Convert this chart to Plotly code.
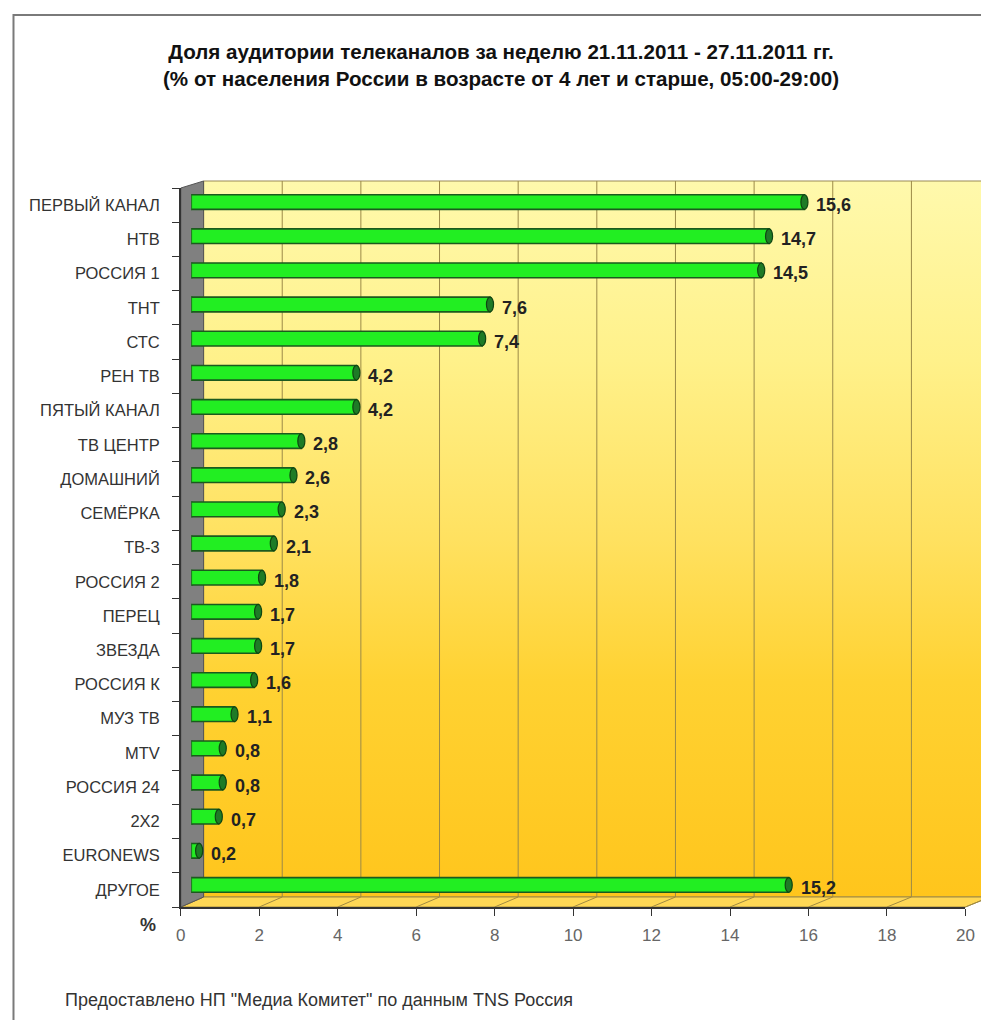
import plotly.graph_objects as go

# ---------------- data ----------------
categories = ["ПЕРВЫЙ КАНАЛ", "НТВ", "РОССИЯ 1", "ТНТ", "СТС", "РЕН ТВ", "ПЯТЫЙ КАНАЛ",
              "ТВ ЦЕНТР", "ДОМАШНИЙ", "СЕМЁРКА", "ТВ-3", "РОССИЯ 2", "ПЕРЕЦ", "ЗВЕЗДА",
              "РОССИЯ К", "МУЗ ТВ", "MTV", "РОССИЯ 24", "2X2", "EURONEWS", "ДРУГОЕ"]
values = [15.6, 14.7, 14.5, 7.6, 7.4, 4.2, 4.2, 2.8, 2.6, 2.3, 2.1, 1.8, 1.7, 1.7,
          1.6, 1.1, 0.8, 0.8, 0.7, 0.2, 15.2]
x_ticks = [0, 2, 4, 6, 8, 10, 12, 14, 16, 18, 20]
title_lines = ["Доля аудитории телеканалов за неделю 21.11.2011 - 27.11.2011 гг.",
               "(% от населения России в возрасте от 4 лет и старше, 05:00-29:00)"]
source_text = 'Предоставлено НП "Медиа Комитет" по данным TNS Россия'

# ---------------- geometry ----------------
W, H = 989, 1012


def rx(p):
    # target screen x -> figure x (page margin / capture correction)
    return (p - 12.5) / 0.987


def ry(p):
    return p - 8


FX0, FX1 = rx(180.5), rx(966)        # front x-axis 0..20
FY0, FY1 = ry(188), ry(907)          # front category band
BX0, BX1 = rx(203.3), rx(990.7)      # back wall 0..20
BY0, BY1 = ry(181), ry(897)
MX0, MX1 = rx(191), rx(978)          # bar (mid-depth) axis 0..20
MY0, MY1 = ry(185), ry(902)

FONT = "Liberation Sans, Arial, sans-serif"


def fx(k):
    return FX0 + (FX1 - FX0) * k / 20.0


def bx(k):
    return BX0 + (BX1 - BX0) * k / 20.0


fig = go.Figure()

# back wall with gradient
fig.add_trace(go.Scatter(
    x=[BX0, BX1, BX1, BX0, BX0], y=[BY0, BY0, BY1, BY1, BY0],
    xaxis="x", yaxis="y", mode="lines", fill="toself",
    line=dict(color="#9a8a55", width=1),
    fillgradient=dict(type="vertical", start=BY0, stop=BY1,
                      colorscale=[[0, "#FFF9AC"], [0.25, "#FFF18A"], [0.5, "#FFE160"],
                                  [0.7, "#FFD232"], [1, "#FFC51C"]]),
    hoverinfo="skip", showlegend=False))

# back grid lines
gx, gy = [], []
for k in x_ticks[1:]:
    gx += [bx(k), bx(k), None]
    gy += [BY0, BY1, None]
fig.add_trace(go.Scatter(x=gx, y=gy, xaxis="x", yaxis="y", mode="lines",
                         line=dict(color="#9c8a48", width=1),
                         hoverinfo="skip", showlegend=False))

# floor
fig.add_trace(go.Scatter(
    x=[FX0, FX1, BX1, BX0, FX0], y=[FY1, FY1, BY1, BY1, FY1],
    xaxis="x", yaxis="y", mode="lines", fill="toself", fillcolor="#FFD855",
    line=dict(color="#a08a40", width=1), hoverinfo="skip", showlegend=False))
fx_l, fy_l = [], []
for k in x_ticks:
    fx_l += [fx(k), bx(k), None]
    fy_l += [FY1, BY1, None]
fig.add_trace(go.Scatter(x=fx_l, y=fy_l, xaxis="x", yaxis="y", mode="lines",
                         line=dict(color="#a08a40", width=1),
                         hoverinfo="skip", showlegend=False))

# left wall
fig.add_trace(go.Scatter(
    x=[FX0, BX0, BX0, FX0, FX0], y=[FY0, BY0, BY1, FY1, FY0],
    xaxis="x", yaxis="y", mode="lines", fill="toself", fillcolor="#808080",
    line=dict(color="#555555", width=1), hoverinfo="skip", showlegend=False))

# bars
fig.add_trace(go.Bar(
    x=values, y=categories, orientation="h", xaxis="x2", yaxis="y2",
    width=0.43, marker=dict(color="#22EE22", line=dict(color="#1B5A1E", width=1.6)),
    hoverinfo="x+y", showlegend=False))

# invisible trace so that the front axes (x3/y3) are drawn
fig.add_trace(go.Scatter(
    x=values, y=list(range(len(categories))), xaxis="x3", yaxis="y3",
    mode="markers", marker=dict(size=1, opacity=0), hoverinfo="skip",
    showlegend=False))

shapes = []
annotations = []
for i, (c, v) in enumerate(zip(categories, values)):
    # left rounded end
    shapes.append(dict(type="circle", xref="x2", yref="y2", layer="below",
                       x0=-0.1, x1=0.1, y0=i - 0.215, y1=i + 0.215,
                       fillcolor="#22EE22", line=dict(color="#1B5A1E", width=1.6)))
    # right end cap
    shapes.append(dict(type="circle", xref="x2", yref="y2", layer="above",
                       x0=v - 0.09, x1=v + 0.09, y0=i - 0.215, y1=i + 0.215,
                       fillcolor="#1E7B26", line=dict(color="#0F4512", width=1.2)))
    annotations.append(dict(x=v, y=c, xref="x2", yref="y2", xanchor="left",
                            yanchor="middle", xshift=10, yshift=-3, showarrow=False,
                            text=f"{v:.1f}".replace(".", ","),
                            font=dict(family=FONT, size=18, color="#222222",
                                      weight="bold")))

# frame
shapes.append(dict(type="rect", xref="paper", yref="paper", layer="above",
                   x0=0.5 / W, x1=1.05, y0=-0.02, y1=1 - ry(15) / H,
                   line=dict(color="#7a7a7a", width=2)))

# title
annotations.append(dict(x=rx(501.5) / W, y=1 - ry(65) / H, xref="paper", yref="paper",
                        xanchor="center", yanchor="middle", showarrow=False,
                        text="<br>".join(title_lines),
                        font=dict(family=FONT, size=20.6, color="#111111",
                                  weight="bold")))
# % label
annotations.append(dict(x=rx(148) / W, y=1 - ry(925) / H, xref="paper", yref="paper",
                        xanchor="center", yanchor="middle", showarrow=False,
                        text="%", font=dict(family=FONT, size=18, color="#333333",
                                            weight="bold")))
# source
annotations.append(dict(x=rx(63) / W, y=1 - ry(1000) / H, xref="paper", yref="paper",
                        xanchor="left", yanchor="middle", showarrow=False,
                        text=source_text,
                        font=dict(family=FONT, size=18, color="#333333")))

fig.update_layout(
    width=W, height=H, margin=dict(l=0, r=0, t=0, b=0),
    paper_bgcolor="white", plot_bgcolor="rgba(0,0,0,0)",
    showlegend=False, shapes=shapes, annotations=annotations,
    xaxis=dict(domain=[0, 1], range=[0, W], visible=False, fixedrange=True),
    yaxis=dict(domain=[0, 1], range=[H, 0], visible=False, fixedrange=True),
    xaxis2=dict(domain=[MX0 / W, MX1 / W], range=[0, 20], visible=False,
                anchor="y2", fixedrange=True),
    yaxis2=dict(domain=[1 - MY1 / H, 1 - MY0 / H], type="category",
                categoryorder="array", categoryarray=categories,
                range=[len(categories) - 0.5, -0.5], visible=False,
                anchor="x2", fixedrange=True),
    xaxis3=dict(domain=[FX0 / W, FX1 / W], range=[0, 20], anchor="y3",
                tickvals=x_ticks, ticks="outside", ticklen=7, tickcolor="#333333",
                showline=True, linecolor="#333333", linewidth=1.5, showgrid=False,
                zeroline=False, ticklabelstandoff=5,
                tickfont=dict(family=FONT, size=17, color="#666666"),
                fixedrange=True),
    yaxis3=dict(domain=[1 - FY1 / H, 1 - FY0 / H], range=[len(categories) - 0.5, -0.5],
                anchor="x3", tickvals=list(range(len(categories))), ticktext=categories,
                ticks="", showline=True, linecolor="#333333", linewidth=1.5,
                showgrid=False, zeroline=False, ticklabelstandoff=16,
                minor=dict(ticks="outside", ticklen=7, tick0=0.5, dtick=1,
                           tickcolor="#333333", showgrid=False),
                tickfont=dict(family=FONT, size=16.5, color="#333333"),
                fixedrange=True),
)

fig.write_html("out.html")
